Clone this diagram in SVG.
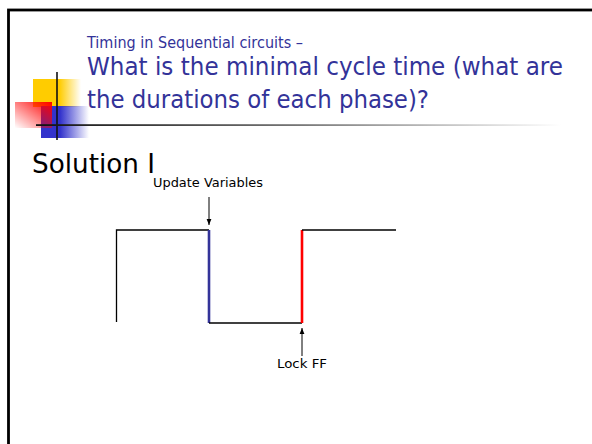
<svg xmlns="http://www.w3.org/2000/svg" width="592" height="444" viewBox="0 0 592 444">
<style>
.title{font-family:"DejaVu Sans",Verdana,sans-serif;fill:#333399}
.lbl{font-family:"DejaVu Sans",Verdana,sans-serif;fill:#000;font-size:13px}
.wire{stroke:#000;stroke-width:1.3;fill:none}
</style>
<defs>
<linearGradient id="gY" x1="0" y1="0" x2="1" y2="0"><stop offset="0.55" stop-color="#ffcc00"/><stop offset="1" stop-color="#ffcc00" stop-opacity="0"/></linearGradient>
<linearGradient id="gB" x1="0" y1="0" x2="1" y2="0"><stop offset="0.4" stop-color="#3333cc"/><stop offset="1" stop-color="#3333cc" stop-opacity="0"/></linearGradient>
<linearGradient id="gR" x1="1" y1="0" x2="0" y2="1"><stop offset="0" stop-color="#ff0000"/><stop offset="1" stop-color="#ff0000" stop-opacity="0"/></linearGradient>
<linearGradient id="gL" x1="0" y1="0" x2="1" y2="0"><stop offset="0" stop-color="#111"/><stop offset="0.5" stop-color="#777"/><stop offset="1" stop-color="#fff"/></linearGradient>
<marker id="ah" viewBox="0 0 10 10" refX="10" refY="5" markerWidth="6" markerHeight="6" orient="auto"><path d="M0,1 L10,5 L0,9 z" fill="#000"/></marker>
</defs>
<rect x="0" y="0" width="592" height="444" fill="#fff"/>
<rect x="8.5" y="10" width="600" height="460" fill="none" stroke="#000" stroke-width="2.8"/>
<g id="logo">
<rect x="33" y="79" width="48" height="28" fill="url(#gY)"/>
<rect x="41" y="106" width="48" height="32" fill="url(#gB)"/>
<rect x="15" y="102" width="37" height="26" fill="url(#gR)"/>
<line x1="57" y1="72" x2="57" y2="140" stroke="#111" stroke-width="1.6"/>
<rect x="36" y="124.2" width="525" height="1.8" fill="url(#gL)"/>
</g>
<g id="title">
<text class="title" x="87" y="48" font-size="15" textLength="216" lengthAdjust="spacingAndGlyphs">Timing in Sequential circuits –</text>
<text class="title" x="87" y="75" font-size="24.5" textLength="476" lengthAdjust="spacingAndGlyphs">What is the minimal cycle time (what are</text>
<text class="title" x="87" y="108" font-size="24.5" textLength="342" lengthAdjust="spacingAndGlyphs">the durations of each phase)?</text>
</g>
<text id="solution" x="32" y="173" font-family="DejaVu Sans,Verdana,sans-serif" font-size="27" textLength="123" lengthAdjust="spacingAndGlyphs">Solution I</text>
<g id="waveform">
<polyline class="wire" points="116.5,322 116.5,230 209,230"/>
<line x1="209" y1="230" x2="209" y2="323" stroke="#333399" stroke-width="2.6"/>
<line class="wire" x1="209" y1="323" x2="302" y2="323"/>
<line x1="302" y1="323" x2="302" y2="230" stroke="#ff0000" stroke-width="2.6"/>
<line class="wire" x1="302" y1="230" x2="396" y2="230"/>
</g>
<g id="connectors">
<line x1="209" y1="197" x2="209" y2="225" stroke="#000" stroke-width="1" marker-end="url(#ah)"/>
<line x1="302" y1="356" x2="302" y2="328" stroke="#000" stroke-width="1" marker-end="url(#ah)"/>
</g>
<g id="update"><text class="lbl" x="153" y="187" textLength="110" lengthAdjust="spacingAndGlyphs">Update Variables</text></g>
<g id="lock"><text class="lbl" x="277" y="368" textLength="50" lengthAdjust="spacingAndGlyphs">Lock FF</text></g>
</svg>
